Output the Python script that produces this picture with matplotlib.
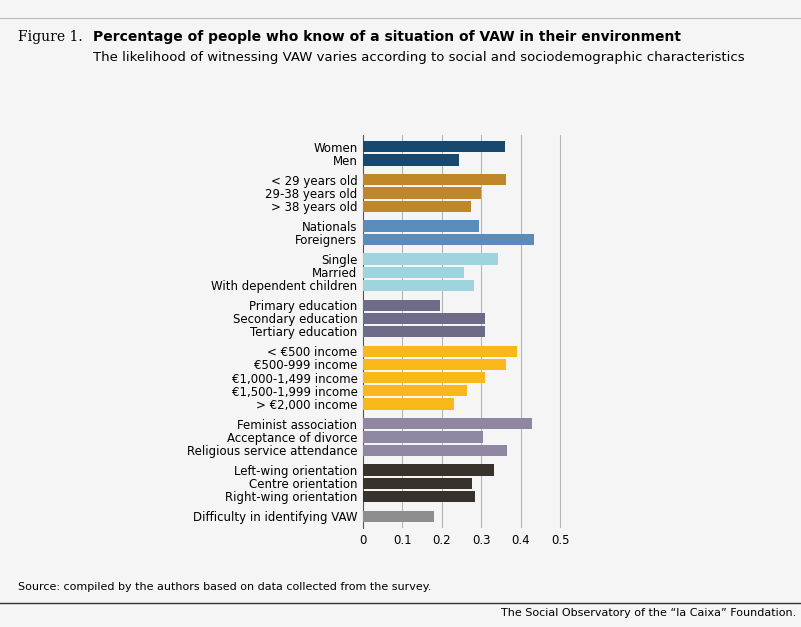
import matplotlib.pyplot as plt
import numpy as np

labels = ["Women", "Men",
          "< 29 years old", "29-38 years old", "> 38 years old",
          "Nationals", "Foreigners",
          "Single", "Married", "With dependent children",
          "Primary education", "Secondary education", "Tertiary education",
          "< €500 income", "€500-999 income", "€1,000-1,499 income", "€1,500-1,999 income", "> €2,000 income",
          "Feminist association", "Acceptance of divorce", "Religious service attendance",
          "Left-wing orientation", "Centre orientation", "Right-wing orientation",
          "Difficulty in identifying VAW"]
values = [0.359, 0.242,
          0.361, 0.300, 0.273,
          0.295, 0.432,
          0.343, 0.255, 0.280,
          0.194, 0.308, 0.308,
          0.389, 0.361, 0.308, 0.263, 0.230,
          0.427, 0.305, 0.364,
          0.331, 0.275, 0.283,
          0.179]
group_sizes = [2, 3, 2, 3, 3, 5, 3, 3, 1]
group_colors = ["#17496f", "#c0862a", "#5b8bb8", "#9fd3de", "#6c6b88",
                "#f8b81a", "#8f86a2", "#37322c", "#8e8e8e"]
ticks = [0, 0.1, 0.2, 0.3, 0.4, 0.5]

bg = "#f5f5f5"
fig = plt.figure(figsize=(8.01, 6.27), dpi=100, facecolor=bg)
ax = fig.add_axes([363/801, 1-528/627, 225/801, 393/627], facecolor=bg)

# y positions with gaps between groups
ypos, colors = [], []
y = 0.0
for gi, n in enumerate(group_sizes):
    for _ in range(n):
        ypos.append(y)
        colors.append(group_colors[gi])
        y += 1
    y += 0.5
ypos = np.array(ypos)

ax.barh(ypos, values, height=0.85, color=colors, zorder=3)
ax.set_yticks(ypos)
ax.set_yticklabels(labels, fontsize=8.5, family="DejaVu Sans")
ax.set_ylim(ypos[-1] + 0.9, -0.9)
ax.set_xlim(0, 0.57)
ax.set_xticks(ticks)
ax.set_xticklabels([f"{t:g}" for t in ticks], fontsize=8.5)
for t in ticks[1:]:
    ax.axvline(t, color="#b5b5b5", lw=0.8, zorder=1)
for s in ["top", "right", "bottom"]:
    ax.spines[s].set_visible(False)
ax.spines["left"].set_color("#555555")
ax.tick_params(length=0, pad=4)

# header and footer
fig.text(18/801, 1-37/627, "Figure 1.", fontsize=10, family="DejaVu Serif", va="center")
fig.text(93/801, 1-37/627, "Percentage of people who know of a situation of VAW in their environment",
         fontsize=10, weight="bold", va="center")
fig.text(93/801, 1-57/627, "The likelihood of witnessing VAW varies according to social and sociodemographic characteristics",
         fontsize=9.5, va="center")
fig.text(18/801, 1-587/627, "Source: compiled by the authors based on data collected from the survey.",
         fontsize=8, va="center")
fig.lines.append(plt.Line2D([0.0, 1.0], [1-603/627, 1-603/627], color="#333333", lw=1, transform=fig.transFigure))
fig.lines.append(plt.Line2D([0.0, 1.0], [1-18/627, 1-18/627], color="#bbbbbb", lw=0.8, transform=fig.transFigure))
fig.text(796/801, 1-613/627, "The Social Observatory of the \u201cla Caixa\u201d Foundation.",
         fontsize=8, ha="right", va="center")

fig.savefig("out.png", dpi=100, facecolor=bg)
